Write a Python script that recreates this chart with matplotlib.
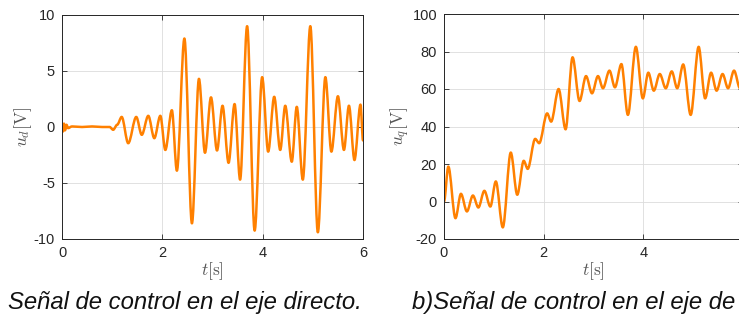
import matplotlib.pyplot as plt
from matplotlib.path import Path
from matplotlib.patches import PathPatch

plt.rcParams['font.family'] = ['Liberation Sans', 'DejaVu Sans']
plt.rcParams['mathtext.fontset'] = 'cm'
plt.rcParams['axes.unicode_minus'] = False

# u_d: control signal, direct axis (extrema)
t_d = [0.0, 0.02, 0.04, 0.06, 0.09, 0.12, 0.2, 0.4, 0.6, 0.8, 0.95, 1.02, 1.1,
       1.19, 1.32, 1.48, 1.59, 1.72, 1.84, 1.96, 2.06, 2.19, 2.29, 2.44, 2.59,
       2.73, 2.85, 2.97, 3.09, 3.20, 3.32, 3.44, 3.55, 3.69, 3.84, 3.99, 4.11,
       4.23, 4.35, 4.45, 4.58, 4.68, 4.80, 4.95, 5.10, 5.25, 5.37, 5.50, 5.62,
       5.72, 5.83, 5.95, 6.0]
u_d = [0.0, -0.4, 0.3, -0.3, 0.2, -0.1, 0.05, 0.0, 0.05, 0.0, 0.0, -0.25, 0.2,
       0.9, -1.45, 0.9, -0.7, 1.0, -1.0, 1.0, -2.05, 1.5, -3.9, 7.9, -8.6,
       4.3, -2.3, 2.65, -2.1, 1.9, -3.2, 2.05, -4.7, 9.0, -9.25, 4.45, -2.2,
       2.7, -2.05, 1.9, -3.1, 1.8, -4.7, 9.0, -9.4, 4.45, -2.2, 2.75, -2.05,
       1.9, -2.95, 2.0, -1.2]

# u_q: control signal, quadrature axis
t_q = [0.0, 0.087, 0.23, 0.34, 0.46, 0.58, 0.69, 0.81, 0.93, 1.04, 1.18, 1.34,
       1.47, 1.60, 1.68, 1.83, 1.91, 2.07, 2.15, 2.30, 2.44, 2.58, 2.72, 2.85,
       2.97, 3.09, 3.19, 3.32, 3.43, 3.56, 3.69, 3.85, 3.99, 4.10, 4.21, 4.33,
       4.45, 4.57, 4.68, 4.80, 4.95, 5.11, 5.24, 5.36, 5.47, 5.59, 5.70, 5.82,
       5.94, 6.0]
u_q = [0.0, 18.6, -8.9, 4.1, -5.3, 3.2, -3.2, 5.7, -2.7, 10.7, -13.8, 26.1,
       3.6, 21.7, 17.4, 33.4, 31.1, 47.0, 42.6, 60.0, 38.5, 76.9, 53.6, 66.9,
       57.7, 66.9, 60.4, 69.8, 60.9, 73.3, 46.2, 82.5, 55.0, 68.7, 59.1, 68.0,
       60.4, 69.4, 60.4, 73.1, 46.2, 82.5, 55.0, 68.7, 59.1, 68.0, 60.4, 69.8,
       60.4, 62.0]

xticks = [0, 2, 4, 6]
yticks_d = [-10, -5, 0, 5, 10]
yticks_q = [-20, 0, 20, 40, 60, 80, 100]

LINE = '#ff8000'
DARK = '#262626'
LABEL = '#555555'


def smooth_line(ax, x, y):
    # smooth curve through the extrema (flat tangent at each read point)
    verts = [(x[0], y[0])]
    codes = [Path.MOVETO]
    for i in range(1, len(x)):
        dx = (x[i] - x[i - 1]) / 3
        verts += [(x[i - 1] + dx, y[i - 1]), (x[i] - dx, y[i]), (x[i], y[i])]
        codes += [Path.CURVE4] * 3
    ax.add_patch(PathPatch(Path(verts, codes), fill=False, edgecolor=LINE,
                           linewidth=1.8, joinstyle='round', capstyle='round'))


def style_axes(ax):
    ax.grid(True, color='#dcdcdc', linewidth=0.6)
    ax.set_axisbelow(True)
    for sp in ax.spines.values():
        sp.set_color(DARK)
        sp.set_linewidth(0.7)
    ax.tick_params(direction='in', length=3.5, width=0.6, color=DARK,
                   labelcolor=DARK, labelsize=10.5, top=True, right=True,
                   pad=5)


fig = plt.figure(figsize=(7.39, 3.20), dpi=100)

ax1 = fig.add_axes([62 / 739, 81 / 320, 301 / 739, 224 / 320])
smooth_line(ax1, t_d, u_d)
ax1.set_xlim(0, 6)
ax1.set_ylim(-10, 10)
ax1.set_xticks(xticks)
ax1.set_yticks(yticks_d)
style_axes(ax1)
ax1.set_xlabel(r'$t[\mathrm{s}]$', fontsize=12.5, color=LABEL, labelpad=0)
ax1.set_ylabel(r'$u_d[\mathrm{V}]$', fontsize=12.5, color=LABEL, labelpad=0)

ax2 = fig.add_axes([444 / 739, 81 / 320, 299 / 739, 225 / 320])
smooth_line(ax2, t_q, u_q)
ax2.set_xlim(0, 6)
ax2.set_ylim(-20, 100)
ax2.set_xticks(xticks)
ax2.set_yticks(yticks_q)
style_axes(ax2)
ax2.set_xlabel(r'$t[\mathrm{s}]$', fontsize=12.5, color=LABEL, labelpad=0)
ax2.set_ylabel(r'$u_q[\mathrm{V}]$', fontsize=12.5, color=LABEL, labelpad=0)

fig.text(8 / 739, 1 - 303 / 320, 'Señal de control en el eje directo.',
         fontsize=17.2, style='italic', color='#111111', ha='left', va='center')
fig.text(412 / 739, 1 - 303 / 320, 'b)Señal de control en el eje de',
         fontsize=17.2, style='italic', color='#111111', ha='left', va='center')

fig.savefig('out.png', dpi=100)
